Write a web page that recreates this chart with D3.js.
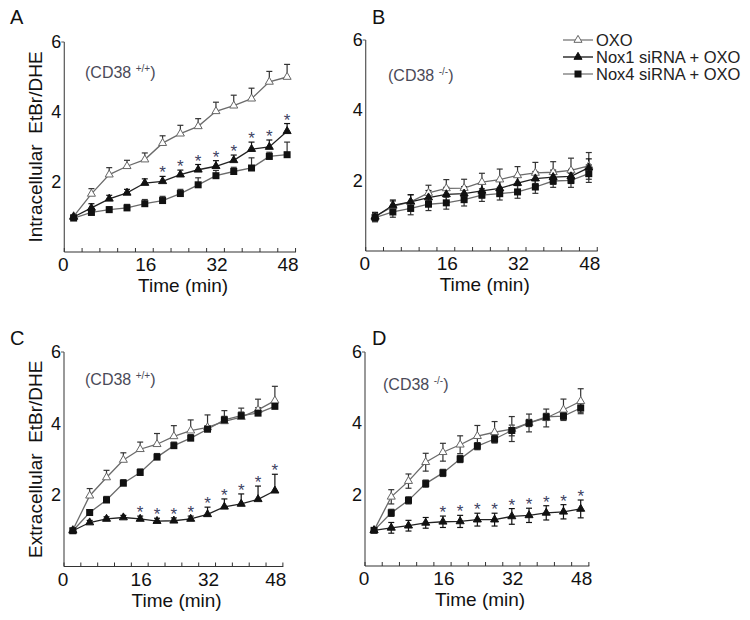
<!DOCTYPE html>
<html>
<head>
<meta charset="utf-8">
<script src="https://cdn.jsdelivr.net/npm/d3@7"></script>
<style>
  body { margin: 0; background: #fff; }
  svg text { font-family: Arial, "Liberation Sans", sans-serif; }
</style>
</head>
<body>
<svg id="chart" width="750" height="620"></svg>
<script>
// time points (min)
var times = [0, 4, 8, 12, 16, 20, 24, 28, 32, 36, 40, 44, 48];
var xTickLabels = ["0", "16", "32", "48"];
var yTickValues = [2, 4, 6];
var seriesNames = ["OXO", "Nox1 siRNA + OXO", "Nox4 siRNA + OXO"];

// A: intracellular, CD38 +/+
var aOxo     = [1.02, 1.66, 2.21, 2.45, 2.64, 3.11, 3.38, 3.59, 4.02, 4.18, 4.38, 4.86, 5.00];
var aOxoErr  = [0.05, 0.15, 0.20, 0.17, 0.19, 0.21, 0.24, 0.22, 0.26, 0.30, 0.30, 0.30, 0.36];
var aNox1    = [1.00, 1.26, 1.52, 1.69, 1.97, 2.02, 2.21, 2.35, 2.45, 2.62, 2.94, 3.00, 3.45];
var aNox1Err = [0.05, 0.12, 0.10, 0.10, 0.12, 0.14, 0.13, 0.15, 0.16, 0.15, 0.20, 0.20, 0.22];
var aNox4    = [0.97, 1.13, 1.21, 1.26, 1.38, 1.47, 1.67, 1.92, 2.18, 2.30, 2.40, 2.73, 2.78];
var aNox4Err = [0.05, 0.10, 0.08, 0.10, 0.12, 0.12, 0.12, 0.20, 0.15, 0.12, 0.29, 0.12, 0.36];
var aStars   = [20, 24, 28, 32, 36, 40, 44, 48];

// B: intracellular, CD38 -/-
var bOxo     = [0.98, 1.27, 1.40, 1.65, 1.78, 1.79, 1.96, 2.03, 2.15, 2.22, 2.24, 2.29, 2.42];
var bOxoErr  = [0.12, 0.15, 0.20, 0.22, 0.25, 0.25, 0.25, 0.30, 0.25, 0.30, 0.30, 0.35, 0.38];
var bNox1    = [0.97, 1.30, 1.40, 1.52, 1.61, 1.63, 1.71, 1.78, 1.93, 2.06, 2.10, 2.12, 2.37];
var bNox1Err = [0.12, 0.15, 0.20, 0.20, 0.20, 0.20, 0.20, 0.20, 0.20, 0.20, 0.20, 0.20, 0.25];
var bNox4    = [0.95, 1.11, 1.21, 1.33, 1.37, 1.46, 1.59, 1.63, 1.68, 1.82, 1.99, 2.01, 2.20];
var bNox4Err = [0.12, 0.15, 0.18, 0.18, 0.18, 0.18, 0.18, 0.18, 0.18, 0.18, 0.18, 0.20, 0.25];
var bStars   = [];

// C: extracellular, CD38 +/+
var cOxo     = [1.02, 1.98, 2.49, 2.98, 3.28, 3.42, 3.64, 3.80, 3.89, 4.06, 4.18, 4.38, 4.64];
var cOxoErr  = [0.05, 0.20, 0.20, 0.20, 0.20, 0.30, 0.30, 0.30, 0.35, 0.30, 0.25, 0.30, 0.40];
var cNox1    = [1.00, 1.23, 1.33, 1.37, 1.33, 1.27, 1.28, 1.33, 1.46, 1.67, 1.75, 1.88, 2.12];
var cNox1Err = [0.05, 0.06, 0.06, 0.06, 0.08, 0.08, 0.08, 0.08, 0.20, 0.22, 0.28, 0.37, 0.46];
var cNox4    = [1.00, 1.51, 1.86, 2.33, 2.63, 3.06, 3.38, 3.59, 3.84, 4.10, 4.22, 4.29, 4.48];
var cNox4Err = [0.05, 0.08, 0.10, 0.10, 0.10, 0.10, 0.10, 0.10, 0.10, 0.10, 0.10, 0.15, 0.10];
var cStars   = [16, 20, 24, 28, 32, 36, 40, 44, 48];

// D: extracellular, CD38 -/-
var dOxo     = [1.00, 1.94, 2.38, 2.91, 3.19, 3.40, 3.64, 3.75, 3.84, 4.01, 4.15, 4.38, 4.62];
var dOxoErr  = [0.05, 0.20, 0.20, 0.25, 0.25, 0.25, 0.30, 0.30, 0.35, 0.25, 0.25, 0.30, 0.35];
var dNox1    = [1.00, 1.07, 1.13, 1.21, 1.24, 1.25, 1.30, 1.30, 1.39, 1.42, 1.49, 1.52, 1.60];
var dNox1Err = [0.05, 0.15, 0.15, 0.15, 0.16, 0.17, 0.18, 0.18, 0.22, 0.20, 0.20, 0.20, 0.25];
var dNox4    = [1.00, 1.49, 1.84, 2.31, 2.61, 3.00, 3.36, 3.56, 3.80, 4.01, 4.18, 4.20, 4.43];
var dNox4Err = [0.05, 0.10, 0.10, 0.10, 0.10, 0.10, 0.10, 0.10, 0.15, 0.10, 0.10, 0.10, 0.12];
var dStars   = [16, 20, 24, 28, 32, 36, 40, 44, 48];

var lineColors = ["#6b6b6b", "#222", "#6b6b6b"];
var starColor = "#3d4262";

var panels = [
  {letter: "A", left: 64.3, right: 296, top: 42, bottom: 252, lx: 10, ly: 24,
   ylabel: "Intracellular  EtBr/DHE", tag: "+/+", tx: 85, ty: 78, both: false,
   series: [[aOxo, aOxoErr], [aNox1, aNox1Err], [aNox4, aNox4Err]], stars: aStars, starIdx: 1},
  {letter: "B", left: 365.7, right: 597.7, top: 40, bottom: 251, lx: 372, ly: 24,
   ylabel: null, tag: "-/-", tx: 388, ty: 81, both: true,
   series: [[bOxo, bOxoErr], [bNox1, bNox1Err], [bNox4, bNox4Err]], stars: bStars, starIdx: 1},
  {letter: "C", left: 64, right: 283.3, top: 352, bottom: 566.5, lx: 10, ly: 345,
   ylabel: "Extracellular  EtBr/DHE", tag: "+/+", tx: 85, ty: 385, both: false,
   series: [[cOxo, cOxoErr], [cNox1, cNox1Err], [cNox4, cNox4Err]], stars: cStars, starIdx: 1},
  {letter: "D", left: 365, right: 589.3, top: 352, bottom: 566, lx: 372, ly: 345,
   ylabel: null, tag: "-/-", tx: 383, ty: 390, both: true,
   series: [[dOxo, dOxoErr], [dNox1, dNox1Err], [dNox4, dNox4Err]], stars: dStars, starIdx: 1}
];

var svg = d3.select("#chart");

function marker(g, k, cx, cy) {
  if (k === 2) {
    g.append("rect").attr("x", cx - 3.5).attr("y", cy - 3.5)
      .attr("width", 7).attr("height", 7).attr("fill", "#111");
  } else {
    g.append("path")
      .attr("d", d3.symbol(d3.symbolTriangle).size(28)())
      .attr("transform", "translate(" + cx + "," + cy + ")")
      .attr("fill", k === 0 ? "#fff" : "#111")
      .attr("stroke", k === 0 ? "#666" : "#111")
      .attr("stroke-width", 1);
  }
}

panels.forEach(function(p) {
  var x = d3.scaleLinear().domain([-2.1, 50]).range([p.left, p.right]);
  var y = d3.scaleLinear().domain([0, 6]).range([p.bottom, p.top]);
  var g = svg.append("g");

  // axes
  g.append("line").attr("x1", p.left).attr("x2", p.left)
    .attr("y1", p.top).attr("y2", p.bottom).attr("stroke", "#555").attr("stroke-width", 1.2);
  g.append("line").attr("x1", p.left).attr("x2", p.right)
    .attr("y1", p.bottom).attr("y2", p.bottom).attr("stroke", "#333").attr("stroke-width", 1.2);
  g.append("line").attr("x1", p.left - 3).attr("x2", p.left)
    .attr("y1", y(6)).attr("y2", y(6)).attr("stroke", "#555");

  g.selectAll(".xt").data(d3.range(-2.1, 50.05, 4)).enter().append("line")
    .attr("x1", function(d) { return x(d); }).attr("x2", function(d) { return x(d); })
    .attr("y1", p.bottom).attr("y2", p.bottom - 4).attr("stroke", "#333");

  g.selectAll(".xl").data(xTickLabels).enter().append("text")
    .attr("x", function(d) { return d === "0" ? p.left - 1 : x(+d) + 1; })
    .attr("y", p.bottom + 19).attr("text-anchor", "middle")
    .attr("font-size", 19).attr("fill", "#111").text(function(d) { return d; });

  g.selectAll(".yl").data(yTickValues).enter().append("text")
    .attr("x", p.left - 3).attr("y", function(d) { return y(d) + 6; })
    .attr("text-anchor", "end").attr("font-size", 18).attr("fill", "#111")
    .text(function(d) { return d; });

  g.append("text").attr("x", (p.left + p.right) / 2 + 3).attr("y", p.bottom + 40)
    .attr("text-anchor", "middle").attr("font-size", 19).attr("fill", "#111").text("Time (min)");

  if (p.ylabel) {
    g.append("text").attr("transform", "translate(42," + (p.top + p.bottom) / 2 + ") rotate(-90)")
      .attr("text-anchor", "middle").attr("font-size", 19).attr("fill", "#111")
      .style("white-space", "pre").text(p.ylabel);
  }

  g.append("text").attr("x", p.lx).attr("y", p.ly).attr("font-size", 20).attr("fill", "#111").text(p.letter);

  var tag = g.append("text").attr("x", p.tx).attr("y", p.ty).attr("font-size", 16).attr("fill", "#4a4a58");
  tag.append("tspan").text("(CD38 ");
  tag.append("tspan").attr("font-size", 10).attr("dy", -6).text(p.tag);
  tag.append("tspan").attr("dy", 6).text(")");

  var line = d3.line().x(function(d, i) { return x(times[i]); }).y(function(d) { return y(d); });

  // lines
  p.series.forEach(function(s, k) {
    g.append("path").datum(s[0]).attr("d", line).attr("fill", "none")
      .attr("stroke", lineColors[k]).attr("stroke-width", 1.3);
  });

  // error bars
  p.series.forEach(function(s, k) {
    var eb = g.append("g").attr("stroke", k === 1 ? "#111" : "#333").attr("stroke-width", 1.2);
    s[0].forEach(function(v, i) {
      var e = s[1][i], cx = x(times[i]);
      eb.append("line").attr("x1", cx).attr("x2", cx).attr("y1", y(v)).attr("y2", y(v + e));
      eb.append("line").attr("x1", cx - 3).attr("x2", cx + 3).attr("y1", y(v + e)).attr("y2", y(v + e));
      if (p.both) {
        eb.append("line").attr("x1", cx).attr("x2", cx).attr("y1", y(v)).attr("y2", y(v - e));
        eb.append("line").attr("x1", cx - 3).attr("x2", cx + 3).attr("y1", y(v - e)).attr("y2", y(v - e));
      }
    });
  });

  // markers
  p.series.forEach(function(s, k) {
    s[0].forEach(function(v, i) { marker(g, k, x(times[i]), y(v)); });
  });

  // significance stars
  var sv = p.series[p.starIdx];
  g.selectAll(".star").data(p.stars).enter().append("text")
    .attr("x", function(t) { return x(t); })
    .attr("y", function(t) { var i = times.indexOf(t); return y(sv[0][i] + sv[1][i]) - 8 + 10; })
    .attr("text-anchor", "middle").attr("font-size", 17).attr("fill", starColor).text("*");
});

// legend
var leg = svg.append("g");
seriesNames.forEach(function(name, k) {
  var ly = 40 + k * 17;
  leg.append("line").attr("x1", 563).attr("x2", 593).attr("y1", ly).attr("y2", ly)
    .attr("stroke", k === 1 ? "#111" : "#777").attr("stroke-width", 1.3);
  marker(leg, k, 578, ly);
  leg.append("text").attr("x", 596).attr("y", ly + 6).attr("font-size", 16.5)
    .attr("fill", "#222").text(name);
});
</script>
</body>
</html>
